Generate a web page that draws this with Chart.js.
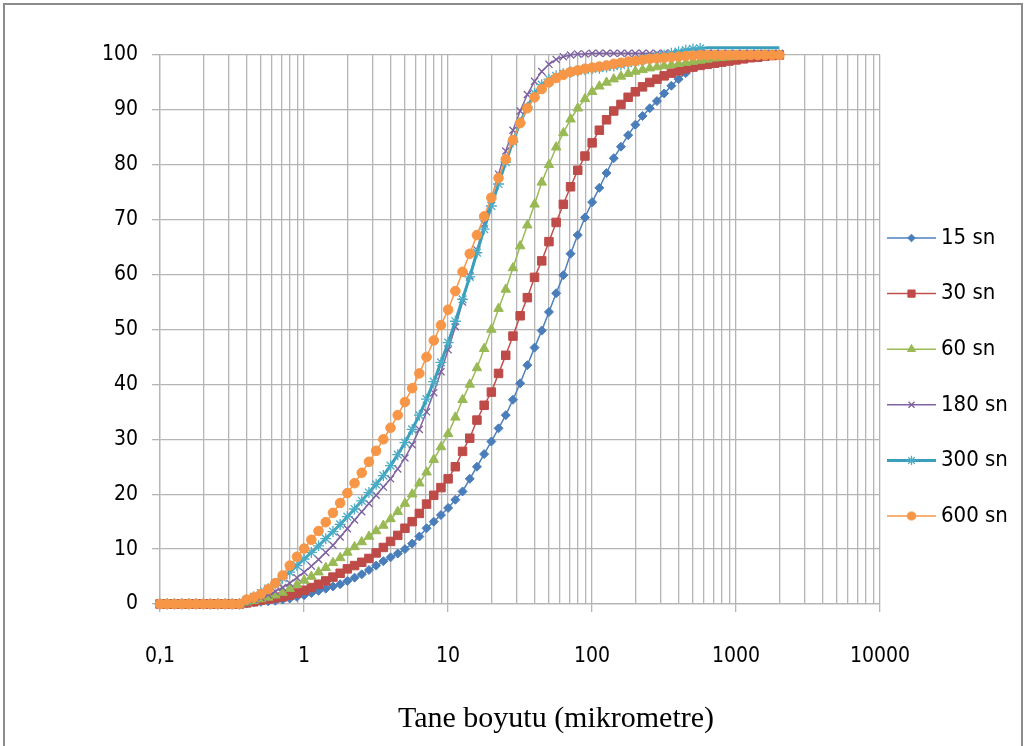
<!DOCTYPE html>
<html>
<head>
<meta charset="utf-8">
<script src="https://cdn.jsdelivr.net/npm/chart.js@4.4.1/dist/chart.umd.min.js"></script>
<style>
html, body { margin: 0; padding: 0; background: #fff; }
#wrap { position: relative; width: 1028px; height: 746px; overflow: hidden; }
#frame { position: absolute; left: 3px; top: 3px; width: 1016px; height: 800px; border: 2px solid #8c8c8c; border-bottom: none; pointer-events: none; }
</style>
</head>
<body>
<div id="wrap">
  <canvas id="chart" width="1028" height="746"></canvas>
  <div id="frame"></div>
</div>
<script>
// particle sizes (micrometre), log spaced
const sizes = [
  0.100, 0.112, 0.126, 0.142, 0.159, 0.178, 0.200, 0.224, 0.252, 0.283,
  0.317, 0.356, 0.399, 0.448, 0.502, 0.564, 0.632, 0.710, 0.796, 0.893,
  1.002, 1.125, 1.262, 1.416, 1.589, 1.783, 2.000, 2.244, 2.518, 2.825,
  3.170, 3.557, 3.991, 4.477, 5.024, 5.637, 6.325, 7.096, 7.962, 8.934,
  10.024, 11.247, 12.619, 14.159, 15.887, 17.825, 20.000, 22.440, 25.179, 28.251,
  31.698, 35.566, 39.905, 44.774, 50.238, 56.368, 63.246, 70.963, 79.621, 89.337,
  100.237, 112.468, 126.191, 141.589, 158.866, 178.250, 200.000, 224.404, 251.785, 282.508,
  316.979, 355.656, 399.052, 447.744, 502.377, 563.677, 632.456, 709.627, 796.214, 893.367,
  1002.374, 1124.683, 1261.915, 1415.892, 1588.656, 1782.502, 2000.000
];

// cumulative % passing for each milling time
const sn15 = [
  0, 0, 0, 0, 0, 0, 0, 0, 0, 0, 0,
  0, 0.1, 0.3, 0.4, 0.5, 0.6, 0.8, 1.0, 1.3, 1.6,
  2.0, 2.4, 2.8, 3.2, 3.6, 4.2, 4.8, 5.4, 6.2, 7.0,
  7.8, 8.5, 9.2, 10.0, 11.0, 12.3, 13.8, 15.0, 16.2, 17.5,
  19.0, 20.5, 22.8, 25.0, 27.3, 29.6, 32.0, 34.4, 37.2, 40.2,
  43.5, 46.7, 49.8, 53.2, 56.6, 59.9, 63.8, 67.2, 70.4, 73.2,
  75.8, 78.5, 81.2, 83.3, 85.4, 87.3, 88.9, 90.3, 91.6, 93.0,
  94.4, 95.6, 96.7, 97.7, 98.4, 98.9, 99.3, 99.5, 99.7, 99.8,
  99.9, 100, 100, 100, 100, 100
];
const sn30 = [
  0, 0, 0, 0, 0, 0, 0, 0, 0, 0, 0,
  0, 0.2, 0.4, 0.7, 0.9, 1.1, 1.3, 1.6, 2.0, 2.5,
  3.0, 3.6, 4.2, 4.9, 5.6, 6.4, 7.0, 7.6, 8.3, 9.3,
  10.3, 11.4, 12.5, 13.8, 15.0, 16.5, 18.2, 19.8, 21.2, 22.8,
  25.0, 27.8, 30.2, 33.5, 36.2, 38.6, 42.0, 45.3, 48.8, 52.5,
  55.8, 59.5, 62.5, 66.0, 69.5, 72.8, 76.0, 79.0, 81.6, 84.0,
  86.3, 88.2, 89.8, 91.0, 92.3, 93.3, 94.2, 95.0, 95.6, 96.2,
  96.7, 97.1, 97.5, 97.8, 98.1, 98.3, 98.5, 98.7, 98.9, 99.1,
  99.3, 99.5, 99.6, 99.8, 99.9, 100
];
const sn60 = [
  0, 0, 0, 0, 0, 0, 0, 0, 0, 0, 0,
  0, 0.3, 0.6, 0.9, 1.2, 1.6, 2.1, 2.8, 3.5, 4.3,
  5.0, 5.8, 6.6, 7.5, 8.4, 9.4, 10.4, 11.3, 12.3, 13.3,
  14.3, 15.5, 16.8, 18.3, 20.0, 22.0, 24.0, 26.3, 28.6, 31.0,
  34.0, 37.2, 40.0, 43.0, 46.5, 50.0, 53.8, 57.3, 61.2, 65.2,
  69.0, 72.8, 76.8, 80.0, 83.2, 85.8, 88.3, 90.3, 92.0, 93.3,
  94.3, 95.0, 95.6, 96.1, 96.6, 97.0, 97.3, 97.6, 97.8, 98.0,
  98.2, 98.4, 98.6, 98.8, 99.0, 99.2, 99.4, 99.5, 99.6, 99.7,
  99.8, 99.9, 100, 100, 100, 100
];
const sn180 = [
  0, 0, 0, 0, 0, 0, 0, 0, 0, 0, 0,
  0, 0.4, 0.8, 1.2, 1.7, 2.3, 3.0, 3.8, 4.8, 5.8,
  6.9, 8.1, 9.4, 10.7, 12.2, 13.7, 15.3, 16.8, 18.3, 19.8,
  21.3, 22.8, 24.6, 26.6, 29.0, 31.8, 35.0, 38.5, 42.3, 46.3,
  50.5, 55.0, 59.8, 64.5, 69.2, 73.8, 78.3, 82.5, 86.3, 89.8,
  92.8, 95.2, 97.0, 98.3, 99.2, 99.7, 100.0, 100.2, 100.2, 100.3,
  100.3, 100.3, 100.3, 100.3, 100.3, 100.3, 100.3, 100.3, 100.3, 100.3,
  100.3, 100.3, 100.3, 100.3, 100.3, 100.3, 100.3, 100.3, 100.3, 100.3,
  100.3, 100.3, 100.3, 100.3, 100.3, 100.3
];
const sn300 = [
  0, 0, 0, 0, 0, 0, 0, 0, 0, 0, 0,
  0, 0.7, 1.3, 2.0, 2.8, 3.7, 4.7, 5.8, 7.0, 8.2,
  9.4, 10.6, 11.9, 13.2, 14.5, 15.9, 17.3, 18.8, 20.3, 21.8,
  23.4, 25.2, 27.2, 29.4, 31.8, 34.4, 37.3, 40.5, 44.0, 47.6,
  51.5, 55.5, 59.6, 64.0, 68.3, 72.5, 76.5, 80.5, 84.2, 87.7,
  90.5, 93.0, 94.6, 95.6, 96.2, 96.6, 96.9, 97.1, 97.3, 97.5,
  97.6, 97.8, 98.0, 98.2, 98.5, 98.8, 99.1, 99.4, 99.7, 100.0,
  100.3, 100.6, 100.9, 101.1, 101.2, 101.3, 101.3, 101.3, 101.3, 101.3,
  101.3, 101.3, 101.3, 101.3, 101.3, 101.3
];
const sn600 = [
  0, 0, 0, 0, 0, 0, 0, 0, 0, 0, 0,
  0, 0.8, 1.2, 1.8, 2.7, 3.8, 5.2, 7.0, 8.6, 10.1,
  11.7, 13.3, 14.9, 16.6, 18.4, 20.2, 22.0, 23.9, 25.9, 27.9,
  30.0, 32.1, 34.4, 36.8, 39.3, 42.0, 45.0, 48.0, 50.8, 53.6,
  57.0, 60.5, 63.8, 67.2, 70.6, 74.0, 77.6, 81.0, 84.5, 87.6,
  90.3, 92.3, 93.8, 95.0, 95.8, 96.4, 96.9, 97.2, 97.5, 97.7,
  97.9, 98.1, 98.4, 98.6, 98.8, 98.9, 99.1, 99.3, 99.4, 99.5,
  99.6, 99.7, 99.8, 99.9, 100, 100, 100, 100, 100, 100,
  100, 100, 100, 100, 100, 100
];

const seriesNames = ['15 sn', '30 sn', '60 sn', '180 sn', '300 sn', '600 sn'];
const yTicks = [0, 10, 20, 30, 40, 50, 60, 70, 80, 90, 100];
const xLabels = { 0.1: '0,1', 1: '1', 10: '10', 100: '100', 1000: '1000', 10000: '10000' };

const gridColor = '#b5b5b5';
const tickFont = { family: '"DejaVu Sans Condensed", "Liberation Sans Narrow", "Liberation Sans", sans-serif', size: 21 };

function toPoints(vals) {
  return vals.map(function(v, i) { return { x: sizes[i], y: v }; });
}

const styles = [
  { line: '#4f81bd', mark: '#4a7ebb', shape: 'rectRot', r: 4.5, lw: 1.5 },
  { line: '#c0504d', mark: '#be4b48', shape: 'rect', r: 6, lw: 1.5 },
  { line: '#9bbb59', mark: '#98b954', shape: 'triangle', r: 5.5, lw: 1.5 },
  { line: '#8064a2', mark: '#7d60a0', shape: 'crossRot', r: 5, lw: 1.5 },
  { line: '#3a9fbb', mark: '#4bacc6', shape: 'star', r: 5.5, lw: 3 },
  { line: '#f79646', mark: '#f79646', shape: 'circle', r: 4.8, lw: 1.5 }
];
const allSeries = [sn15, sn30, sn60, sn180, sn300, sn600];

const datasets = allSeries.map(function(vals, i) {
  const s = styles[i];
  return {
    label: seriesNames[i],
    data: toPoints(vals),
    borderColor: s.line,
    backgroundColor: s.mark,
    borderWidth: s.lw,
    pointStyle: s.shape,
    pointRadius: s.r,
    pointBackgroundColor: s.mark,
    pointBorderColor: s.mark,
    pointBorderWidth: (s.shape === 'crossRot' || s.shape === 'star') ? 1.3 : 1,
    tension: 0,
    fill: false,
    clip: false,
    order: 5 - i   // later series on top, like the original
  };
});

// legend on the right side + axis title
const extras = {
  id: 'extras',
  afterDraw: function(chart) {
    const ctx = chart.ctx;
    ctx.save();
    for (let i = 0; i < styles.length; i++) {
      const s = styles[i];
      const y = 238 + i * 55.6;
      ctx.strokeStyle = s.line;
      ctx.lineWidth = s.lw;
      ctx.beginPath();
      ctx.moveTo(887, y);
      ctx.lineTo(936, y);
      ctx.stroke();
      ctx.fillStyle = s.mark;
      ctx.strokeStyle = s.mark;
      ctx.lineWidth = (s.shape === 'crossRot' || s.shape === 'star') ? 1.3 : 1;
      Chart.helpers.drawPoint(ctx, { pointStyle: s.shape, radius: s.r * 0.85, rotation: 0, borderWidth: ctx.lineWidth }, 911.5, y);
      ctx.fillStyle = '#000';
      ctx.font = '22px ' + tickFont.family;
      ctx.textAlign = 'left';
      ctx.textBaseline = 'middle';
      ctx.fillText(seriesNames[i], 941, y);
    }
    ctx.fillStyle = '#000';
    ctx.font = '30px "Liberation Serif", "Times New Roman", serif';
    ctx.textAlign = 'center';
    ctx.textBaseline = 'middle';
    ctx.fillText('Tane boyutu (mikrometre)', 556, 719);
    ctx.restore();
  }
};

function isMajor(v) {
  const l = Math.log10(v);
  return Math.abs(l - Math.round(l)) < 1e-6;
}

new Chart(document.getElementById('chart'), {
  type: 'line',
  data: { datasets: datasets },
  plugins: [extras],
  options: {
    responsive: false,
    animation: false,
    devicePixelRatio: 1,
    layout: { padding: { left: 0, right: 148, top: 55, bottom: 0 } },
    plugins: { legend: { display: false }, tooltip: { enabled: false } },
    scales: {
      x: {
        type: 'logarithmic',
        min: 0.1,
        max: 10000,
        afterBuildTicks: function(scale) {
          const t = [];
          for (let e = -1; e < 4; e++) {
            for (let m = 1; m < 10; m++) {
              t.push({ value: parseFloat((m * Math.pow(10, e)).toPrecision(3)) });
            }
          }
          t.push({ value: 10000 });
          scale.ticks = t;
        },
        afterFit: function(scale) { scale.height = 142; },
        grid: {
          color: gridColor,
          lineWidth: 1.3,
          tickLength: 8,
          tickColor: function(c) { return c.tick && isMajor(c.tick.value) ? gridColor : 'rgba(0,0,0,0)'; }
        },
        border: { color: gridColor, width: 1.3 },
        ticks: {
          autoSkip: false,
          maxRotation: 0,
          padding: 32,
          color: '#000',
          font: tickFont,
          callback: function(value) {
            return isMajor(value) ? xLabels[value] || String(value) : '';
          }
        }
      },
      y: {
        min: 0,
        max: 100,
        afterBuildTicks: function(scale) {
          scale.ticks = yTicks.map(function(v) { return { value: v }; });
        },
        afterFit: function(scale) { scale.width = 160; },
        grid: { color: gridColor, lineWidth: 1.3, tickLength: 8 },
        border: { color: gridColor, width: 1.3 },
        ticks: { padding: 14, color: '#000', font: tickFont }
      }
    }
  }
});
</script>
</body>
</html>
